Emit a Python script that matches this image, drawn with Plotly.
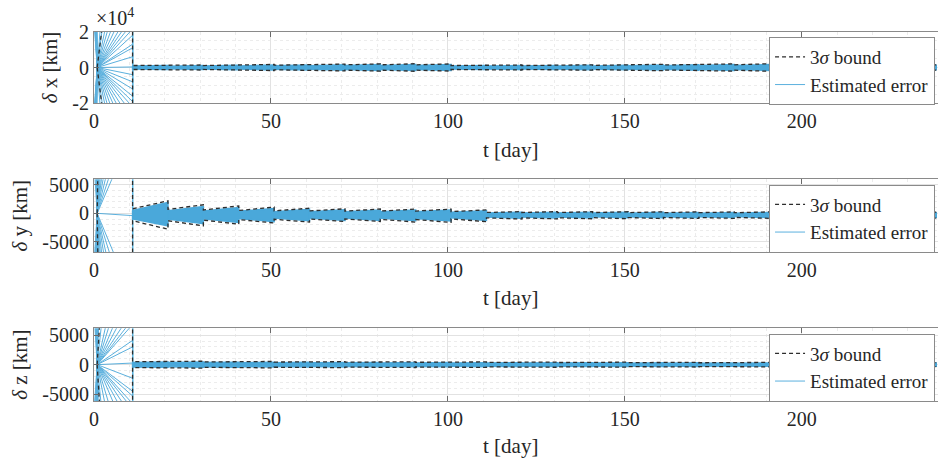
import plotly.graph_objects as go

# ---------------- data ----------------
FONT = "Liberation Serif, DejaVu Serif, Times New Roman, serif"
BLUE = "rgb(74,168,218)"
DARK = "rgb(45,45,45)"

# time knots [day]
FAN_T = [0.0, 0.9, 10.9, 10.9]
BREAKS = [10.9, 20.9, 30.9, 40.9, 50.9, 60.9, 70.9, 80.9, 90.9, 100.9, 110.9, 120.9,
          130.9, 140.9, 150.9, 160.9, 170.9, 180.9, 190.9, 200.9, 210.9, 220.9, 230.9]
T_END = 238.0

# ---- delta x [km] ----
x_fan_v0 = [60000, -45000, 150000, -120000, 30000, -35000, 200000, -80000, 90000, -25000,
            40000, -60000, 110000, -150000, 70000, -30000, 26000, -200000, 50000, -90000,
            35000, -40000, 130000, -70000, 80000, -100000, 45000, -28000, 160000, -55000]
x_fan_v10 = [250000, 150000, 95000, 70000, 53000, 42000, 34000, 29000, 25000, 21500,
             18000, 13000, 11000, 6000, 300, -4000, -8000, -12000, -16000, -19000,
             -22000, -26000, -31000, -37000, -45000, -56000, -72000, -95000, -140000, -260000]
x_bound_fan = [0.0, 160000]
x_bnd_up_s = [1100, 1000, 1100, 1200, 1300, 1400, 1500, 1500, 1500, 1100, 1100, 1100,
              1100, 1200, 1300, 1400, 1500, 1500, 1500, 1400, 1400, 1300, 1300]
x_bnd_up_e = [1400, 1400, 1500, 1700, 1800, 1900, 2000, 2100, 2000, 1400, 1400, 1400,
              1500, 1600, 1800, 1900, 2000, 2100, 2000, 1800, 1800, 1700, 1500]
x_bnd_lo_s = [-1100, -1000, -1100, -1200, -1300, -1400, -1500, -1500, -1500, -1100, -1100, -1100,
              -1100, -1200, -1300, -1400, -1500, -1500, -1500, -1400, -1400, -1300, -1300]
x_bnd_lo_e = [-1400, -1400, -1500, -1700, -1800, -1900, -2000, -2100, -2000, -1400, -1400, -1400,
              -1500, -1600, -1800, -1900, -2000, -2100, -2000, -1800, -1800, -1700, -1500]
x_err_hi_s = [800, 700, 800, 900, 950, 1000, 1100, 1100, 1100, 800, 800, 800,
              800, 850, 950, 1000, 1100, 1100, 1100, 1000, 1000, 950, 950]
x_err_hi_e = [1100, 1100, 1200, 1350, 1400, 1500, 1600, 1700, 1600, 1100, 1100, 1100,
              1200, 1250, 1400, 1500, 1600, 1700, 1600, 1400, 1400, 1350, 1200]
x_err_lo_s = [-800, -700, -800, -900, -950, -1000, -1100, -1100, -1100, -800, -800, -800,
              -800, -850, -950, -1000, -1100, -1100, -1100, -1000, -1000, -950, -950]
x_err_lo_e = [-1100, -1100, -1200, -1350, -1400, -1500, -1600, -1700, -1600, -1100, -1100, -1100,
              -1200, -1250, -1400, -1500, -1600, -1700, -1600, -1400, -1400, -1350, -1200]

# ---- delta y [km] ----
y_fan_v0 = [40000, -30000, 120000, -90000, 15000, -12000, 200000, -60000, 80000, -20000,
            9000, -150000, 60000, -45000, 25000, -9000, 100000, -250000, 30000]
y_fan_v10 = [260000, 150000, 100000, 70000, 50000, 36000, 26000, 19000, 14500, -15000,
             -20000, -28000, -38000, -55000, -80000, -120000, -200000, -300000, -400]
y_bound_fan = [0.0, 400000]
y_bnd_up_s = [800, 700, 600, 500, 450, 420, 400, 400, 400, 300, 150, 150,
              140, 130, 130, 120, 120, 110, 110, 100, 100, 100, 100]
y_bnd_up_e = [2200, 1500, 1300, 1100, 900, 800, 760, 750, 750, 600, 300, 300,
              290, 280, 270, 260, 250, 250, 240, 230, 230, 220, 220]
y_bnd_lo_s = [-1300, -1300, -1200, -1100, -1050, -1000, -1000, -1050, -1100, -1000, -800, -800,
              -780, -760, -750, -740, -730, -720, -710, -700, -700, -700, -700]
y_bnd_lo_e = [-2800, -2200, -1900, -1700, -1550, -1450, -1450, -1550, -1600, -1450, -1000, -980,
              -960, -940, -920, -900, -890, -880, -870, -860, -850, -850, -850]
y_err_hi_s = [500, 450, 400, 350, 300, 280, 260, 260, 260, 200, 50, 50,
              40, 40, 30, 30, 30, 20, 20, 10, 10, 10, 10]
y_err_hi_e = [1900, 1200, 1000, 850, 700, 620, 600, 580, 580, 450, 200, 200,
              190, 180, 170, 160, 150, 150, 140, 130, 130, 120, 120]
y_err_lo_s = [-1000, -1000, -950, -900, -850, -820, -820, -850, -900, -800, -650, -650,
              -640, -620, -610, -600, -590, -580, -570, -560, -560, -560, -560]
y_err_lo_e = [-2200, -1800, -1600, -1450, -1300, -1250, -1250, -1300, -1350, -1250, -850, -830,
              -810, -790, -780, -760, -750, -740, -730, -720, -710, -710, -710]

# ---- delta z [km] ----
z_fan_v0 = [50000, -40000, 140000, -100000, 20000, -15000, 180000, -70000, 90000, -25000,
            12000, -120000, 65000, -50000, 30000, -10000, 110000, -220000, 35000, -80000,
            9000, -8000, 75000, -32000]
z_fan_v10 = [56000, 27000, 19400, 14300, 11300, 9100, 7700, 6800, 4100, 3000, 270,
             -2300, -4500, -5300, -6600, -7500, -9000, -11000, -14000, -20000, -30000, -60000,
             -120000, 150000]
z_bound_fan = [0.0, 100000]
z_bnd_up_s = [500, 480, 460, 450, 440, 430, 420, 410, 400, 390, 380, 370,
              360, 350, 340, 330, 320, 320, 310, 300, 300, 300, 300]
z_bnd_up_e = [600, 580, 560, 540, 520, 500, 490, 480, 470, 460, 450, 440,
              430, 420, 410, 400, 390, 380, 370, 360, 360, 350, 350]
z_bnd_lo_s = [-500, -480, -460, -450, -440, -430, -420, -410, -400, -390, -380, -370,
              -360, -350, -340, -330, -320, -320, -310, -300, -300, -300, -300]
z_bnd_lo_e = [-600, -580, -560, -540, -520, -500, -490, -480, -470, -460, -450, -440,
              -430, -420, -410, -400, -390, -380, -370, -360, -360, -350, -350]
z_err_hi_s = [380, 360, 350, 340, 330, 320, 310, 300, 300, 290, 280, 270,
              270, 260, 250, 250, 240, 240, 230, 220, 220, 220, 220]
z_err_hi_e = [450, 440, 420, 400, 390, 380, 370, 360, 350, 340, 330, 330,
              320, 310, 300, 300, 290, 280, 280, 270, 270, 260, 260]
z_err_lo_s = [-380, -360, -350, -340, -330, -320, -310, -300, -300, -290, -280, -270,
              -270, -260, -250, -250, -240, -240, -230, -220, -220, -220, -220]
z_err_lo_e = [-450, -440, -420, -400, -390, -380, -370, -360, -350, -340, -330, -330,
              -320, -310, -300, -300, -290, -280, -280, -270, -270, -260, -260]

# axis settings (values)
X_RANGE = [0, 238.5]
X_TICKS = [0, 50, 100, 150, 200]
PANELS = [
    dict(name="x", fan_v0=x_fan_v0, fan_v10=x_fan_v10, bfan=x_bound_fan,
         bus=x_bnd_up_s, bue=x_bnd_up_e, bls=x_bnd_lo_s, ble=x_bnd_lo_e,
         ehs=x_err_hi_s, ehe=x_err_hi_e, els=x_err_lo_s, ele=x_err_lo_e,
         yrange=[-20000, 20000], yticks=[-20000, 0, 20000], yticktext=["-2", "0", "2"],
         minor=5000, label="<i>δ</i> x [km]"),
    dict(name="y", fan_v0=y_fan_v0, fan_v10=y_fan_v10, bfan=y_bound_fan,
         bus=y_bnd_up_s, bue=y_bnd_up_e, bls=y_bnd_lo_s, ble=y_bnd_lo_e,
         ehs=y_err_hi_s, ehe=y_err_hi_e, els=y_err_lo_s, ele=y_err_lo_e,
         yrange=[-6870, 6000], yticks=[-5000, 0, 5000], yticktext=["-5000", "0", "5000"],
         minor=1000, label="<i>δ</i> y [km]"),
    dict(name="z", fan_v0=z_fan_v0, fan_v10=z_fan_v10, bfan=z_bound_fan,
         bus=z_bnd_up_s, bue=z_bnd_up_e, bls=z_bnd_lo_s, ble=z_bnd_lo_e,
         ehs=z_err_hi_s, ehe=z_err_hi_e, els=z_err_lo_s, ele=z_err_lo_e,
         yrange=[-6150, 6150], yticks=[-5000, 0, 5000], yticktext=["-5000", "0", "5000"],
         minor=1000, label="<i>δ</i> z [km]"),
]

# ---------------- layout geometry ----------------
W, H = 938, 466
ML = 94
PANEL_PX = [(31.7, 103.3), (179.3, 252.3), (328.3, 401.0)]
XTITLE_PX = [150, 298, 446]
LEGEND_TOP_PX = [37.0, 184.5, 333.5]

def py(px):
    return 1 - px / H

fig = go.Figure()
seg_starts = BREAKS
seg_ends = BREAKS[1:] + [T_END]

for i, p in enumerate(PANELS):
    xa = "x" if i == 0 else f"x{i+1}"
    ya = "y" if i == 0 else f"y{i+1}"
    lg = "legend" if i == 0 else f"legend{i+1}"

    fx, fy = [], []
    for v0, v10 in zip(p["fan_v0"], p["fan_v10"]):
        fx += FAN_T + [None]
        fy += [v0, 0.0, v10, 0.0, None]
    fig.add_trace(go.Scatter(x=fx, y=fy, mode="lines", xaxis=xa, yaxis=ya,
                             line=dict(color=BLUE, width=1), opacity=0.9,
                             name="Estimated error", legend=lg, legendrank=2,
                             showlegend=True, hoverinfo="skip"))
    bx, by = [], []
    for ts, te, hs, he, ls, le in zip(seg_starts, seg_ends, p["ehs"], p["ehe"], p["els"], p["ele"]):
        bx += [ts, te, te, ts, ts, None]
        by += [hs, he, le, ls, hs, None]
    fig.add_trace(go.Scatter(x=bx, y=by, mode="lines", xaxis=xa, yaxis=ya, fill="toself",
                             fillcolor=BLUE, line=dict(color=BLUE, width=1.5),
                             showlegend=False, hoverinfo="skip"))
    for sign_key, (ks, ke) in (("up", ("bus", "bue")), ("lo", ("bls", "ble"))):
        sgn = 1 if sign_key == "up" else -1
        sx = [FAN_T[1], FAN_T[2]]
        sy = [sgn * p["bfan"][0], sgn * p["bfan"][1]]
        for ts, te, vs, ve in zip(seg_starts, seg_ends, p[ks], p[ke]):
            sx += [ts, te]
            sy += [vs, ve]
        fig.add_trace(go.Scatter(x=sx, y=sy, mode="lines", xaxis=xa, yaxis=ya,
                                 line=dict(color=DARK, width=1.3, dash="4px,3px"),
                                 name="3<i>σ</i> bound", legend=lg, legendrank=1,
                                 showlegend=(sign_key == "up"), hoverinfo="skip"))

    top, bot = PANEL_PX[i]
    axis_common = dict(showline=True, linecolor="#8a8a8a", linewidth=1, automargin=False,
                       ticks="inside", ticklen=5, tickcolor="#6a6a6a",
                       tickfont=dict(family=FONT, size=20, color="#262626"),
                       showgrid=True, gridcolor="#e2e2e2", gridwidth=1, zeroline=False)
    fig.layout[("xaxis" if i == 0 else f"xaxis{i+1}")] = dict(
        axis_common, domain=[0, 1], range=X_RANGE, tickvals=X_TICKS, mirror="ticks",
        anchor=ya, minor=dict(dtick=10, tick0=0, showgrid=True, gridcolor="#ececec",
                              griddash="dot", ticks=""))
    fig.layout[("yaxis" if i == 0 else f"yaxis{i+1}")] = dict(
        axis_common, domain=[py(bot), py(top)], range=p["yrange"], tickvals=p["yticks"],
        ticktext=p["yticktext"], mirror=False, anchor=xa,
        title=dict(text=p["label"], font=dict(family=FONT, size=21, color="#262626"), standoff=8),
        minor=dict(dtick=p["minor"], tick0=0, showgrid=True, gridcolor="#ececec",
                   griddash="dot", ticks=""))
    fig.layout[lg] = dict(x=0.9965, xanchor="right", y=py(LEGEND_TOP_PX[i]), yanchor="top",
                          bgcolor="white", bordercolor="#8a8a8a", borderwidth=1,
                          font=dict(family=FONT, size=19, color="#262626"),
                          tracegroupgap=0, itemwidth=30)
    fig.add_annotation(text="t [day]", xref="paper", yref="paper",
                       x=(510 - ML) / (W - ML), y=py(XTITLE_PX[i]), showarrow=False,
                       xanchor="center", yanchor="middle",
                       font=dict(family=FONT, size=21, color="#262626"))

fig.add_annotation(text="×10<sup>4</sup>", xref="paper", yref="paper",
                   x=0.0, y=py(17), xanchor="left", yanchor="middle", showarrow=False,
                   font=dict(family=FONT, size=20, color="#262626"))

fig.update_layout(width=W, height=H, margin=dict(l=ML, r=0, t=0, b=0, autoexpand=False),
                  plot_bgcolor="white", paper_bgcolor="white")

fig.write_html("out.html", config={"displayModeBar": False},
               post_script="document.body.style.margin='0';document.body.style.overflow='hidden';")
